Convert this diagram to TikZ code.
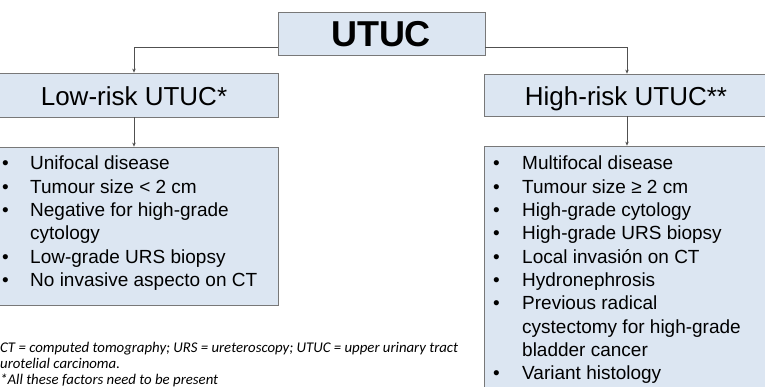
\documentclass[tikz,border=0pt]{standalone}
\usepackage{fontspec}
\setmainfont{Liberation Sans}
\newfontfamily\notefont{Carlito}
\usepackage{array}
\usetikzlibrary{arrows.meta,calc}
\definecolor{boxfill}{RGB}{220,230,242}
\definecolor{boxline}{RGB}{120,120,120}
\definecolor{conn}{RGB}{80,80,80}
\tikzset{
  box/.style={draw=boxline,fill=boxfill,line width=0.8pt,inner sep=0pt,rectangle},
  conline/.style={draw=conn,line width=0.6pt,-{Stealth[length=4pt,width=3.5pt]}},
  listtext/.style={anchor=base west,inner sep=0pt,align=left},
  title/.style={anchor=base,inner sep=0pt,font=\fontsize{26}{30}\selectfont}
}
\newcommand{\bl}{\textbullet}
\begin{document}
\begin{tikzpicture}[x=1pt,y=-1pt]
\useasboundingbox (0,0) rectangle (765,387);
\clip (0,0) rectangle (765,387);
% boxes
\node[box,minimum width=207pt,minimum height=43pt] (top) at (381.5,33.5) {};
\node[anchor=base,inner sep=0pt,font=\fontsize{36}{40}\selectfont\bfseries] (toptxt) at (381,47) {UTUC};
\node[box,minimum width=290pt,minimum height=44pt] (low) at (133,95) {};
\node[title] (lowtxt) at (134,106) {Low-risk UTUC*};
\node[box,minimum width=286pt,minimum height=42pt] (high) at (627,95) {};
\node[title] (hightxt) at (626,106) {High-risk UTUC**};
\node[box,minimum width=290pt,minimum height=158pt] (lowlist) at (133,226) {};
\node[box,minimum width=286pt,minimum height=260pt] (highlist) at (627,276) {};
% connectors
\coordinate (tl) at ($(top.south west)+(0,-8.5)$);
\coordinate (tr) at ($(top.south east)+(0,-8.5)$);
\draw[conline] (tl) -| (low.north -| lowtxt);
\draw[conline] (tr) -| (high.north);
\draw[conline] (low.south -| lowtxt) -- (lowlist.north -| lowtxt);
\draw[conline] (high.south) -- (highlist.north);
% lists
\node[listtext,font=\fontsize{19}{23.3}\selectfont] (lowitems) at (2,170) {%
\begin{tabular}[t]{@{}p{28pt}@{}l@{}}
\bl & Unifocal disease\\
\bl & Tumour size < 2 cm\\
\bl & Negative for high-grade\\
    & cytology\\
\bl & Low-grade URS biopsy\\
\bl & No invasive aspecto on CT
\end{tabular}};
\node[listtext,font=\fontsize{19}{23.3}\selectfont] (highitems) at (493,170) {%
\begin{tabular}[t]{@{}p{29pt}@{}l@{}}
\bl & Multifocal disease\\
\bl & Tumour size ≥ 2 cm\\
\bl & High-grade cytology\\
\bl & High-grade URS biopsy\\
\bl & Local invasión on CT\\
\bl & Hydronephrosis\\
\bl & Previous radical\\
    & cystectomy for high-grade\\
    & bladder cancer\\
\bl & Variant histology
\end{tabular}};
% footnote
\node[listtext,font=\notefont\itshape\fontsize{14.8}{16}\selectfont] (note) at (0,352) {%
\begin{tabular}[t]{@{}l@{}}
CT = computed tomography; URS = ureteroscopy; UTUC = upper urinary tract\\
urotelial carcinoma.\\
{*}All these factors need to be present
\end{tabular}};
\end{tikzpicture}
\end{document}
